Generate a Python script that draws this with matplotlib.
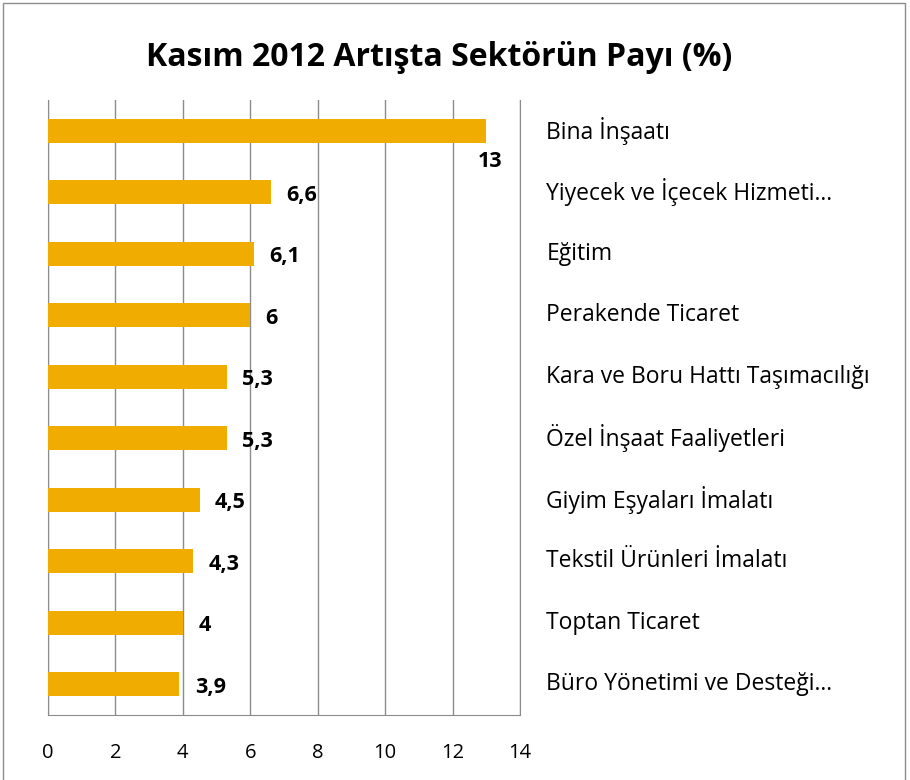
import matplotlib.pyplot as plt
from matplotlib.patches import Rectangle

plt.rcParams['font.family'] = ['Open Sans', 'DejaVu Sans']

sectors = ['Bina İnşaatı', 'Yiyecek ve İçecek Hizmeti...', 'Eğitim', 'Perakende Ticaret',
           'Kara ve Boru Hattı Taşımacılığı', 'Özel İnşaat Faaliyetleri', 'Giyim Eşyaları İmalatı',
           'Tekstil Ürünleri İmalatı', 'Toptan Ticaret', 'Büro Yönetimi ve Desteği...']
shares = [13, 6.6, 6.1, 6, 5.3, 5.3, 4.5, 4.3, 4, 3.9]
xticks = [0, 2, 4, 6, 8, 10, 12, 14]

bar_color = '#F0AD00'
grid_color = '#8C8C8C'

fig = plt.figure(figsize=(9.1, 7.8), dpi=100)
ax = fig.add_axes([48 / 910, 1 - 715 / 780, 472 / 910, 615 / 780])

y = list(range(len(sectors)))
ax.barh(y, shares, height=0.39, color=bar_color, zorder=3)
ax.set_xlim(0, 14)
ax.set_ylim(len(sectors) - 0.5, -0.5)

ax.set_xticks(xticks)
ax.set_xticklabels([str(t) for t in xticks], fontsize=14.5)
ax.tick_params(axis='x', length=0, pad=20)
ax.set_yticks([])
ax.grid(axis='x', color=grid_color, linewidth=1, zorder=0)
ax.spines['top'].set_visible(False)
for side in ['bottom', 'left', 'right']:
    ax.spines[side].set_color(grid_color)

for i, (name, v) in enumerate(zip(sectors, shares)):
    txt = f'{v:g}'.replace('.', ',')
    if v > 12:
        # label would run past the plot edge, so it goes under the bar
        ax.annotate(txt, (v, i), xytext=(3, -22), textcoords='offset points',
                    ha='center', va='center', fontsize=15.5, fontweight='bold')
    else:
        ax.annotate(txt, (v, i), xytext=(11, -2), textcoords='offset points',
                    ha='left', va='center', fontsize=15.5, fontweight='bold')
    ax.annotate(name, (1, i), xycoords=('axes fraction', 'data'), xytext=(19, 0),
                textcoords='offset points', ha='left', va='center', fontsize=16.5)

fig.text(439 / 910, 1 - 58 / 780, 'Kasım 2012 Artışta Sektörün Payı (%)', ha='center', va='center',
         fontsize=23, fontweight='bold')

fig.patches.append(Rectangle((3 / 910, -0.01), 902 / 910, 1 - 3 / 780 + 0.01, transform=fig.transFigure,
                             fill=False, edgecolor='#8C8C8C', linewidth=1))

fig.savefig('out.png', dpi=100)
